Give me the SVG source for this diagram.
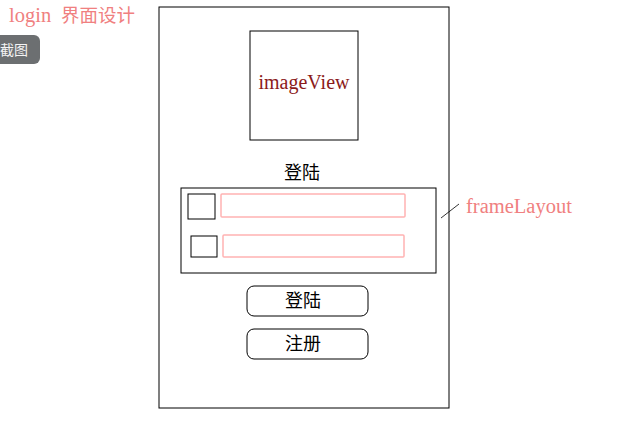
<svg xmlns="http://www.w3.org/2000/svg" width="630" height="443" viewBox="0 0 630 443">
<style>
.box{fill:none;stroke:#000;stroke-width:1}
.pink{fill:none;stroke:#ffb3b3;stroke-width:1.5}
.cn{font-family:"Noto Sans CJK SC","Noto Sans",sans-serif;font-size:18px;fill:#000;text-anchor:middle}
.red{font-family:"Liberation Serif","DejaVu Serif",serif;fill:#f08080}
</style>
<rect width="630" height="443" fill="#fff"/>
<g id="title"><text class="red" x="9" y="22" font-size="20.5">login<tspan x="61" font-family="Noto Sans CJK SC,sans-serif" font-size="18.5">界面设计</tspan></text></g>
<g id="screenshot">
<rect x="-8" y="35" width="48" height="29" rx="6" fill="#6c6f71"/>
<text x="14" y="55" font-family="Noto Sans CJK SC,sans-serif" font-size="14" fill="#f4f4f4" text-anchor="middle">截图</text>
</g>
<g id="frame"><rect class="box" x="159" y="7" width="290" height="401"/></g>
<g id="imageView">
<rect class="box" x="250" y="31" width="108" height="109"/>
<text x="304" y="89" font-family="Liberation Serif,serif" font-size="20" fill="#8b1a1a" text-anchor="middle">imageView</text>
</g>
<g id="loginLabel"><text class="cn" x="302" y="179">登陆</text></g>
<g id="frameLayout">
<rect class="box" x="181" y="188" width="255" height="85"/>
<rect class="box" x="188" y="194" width="27" height="25"/>
<rect class="pink" x="221" y="194" width="184" height="23" rx="1"/>
<rect class="box" x="191" y="236" width="26" height="21"/>
<rect class="pink" x="223" y="235" width="181" height="22" rx="1"/>
</g>
<g id="loginBtn">
<rect class="box" x="247" y="286" width="121" height="30" rx="7"/>
<text class="cn" x="303" y="307">登陆</text>
</g>
<g id="registerBtn">
<rect class="box" x="247" y="329" width="121" height="30" rx="7"/>
<text class="cn" x="303" y="350">注册</text>
</g>
<g id="connectors"><line x1="441" y1="218" x2="459" y2="204" stroke="#000" stroke-width="0.8"/></g>
<g id="frameLayoutLabel"><text class="red" x="466" y="213" font-size="20.5">frameLayout</text></g>
</svg>
